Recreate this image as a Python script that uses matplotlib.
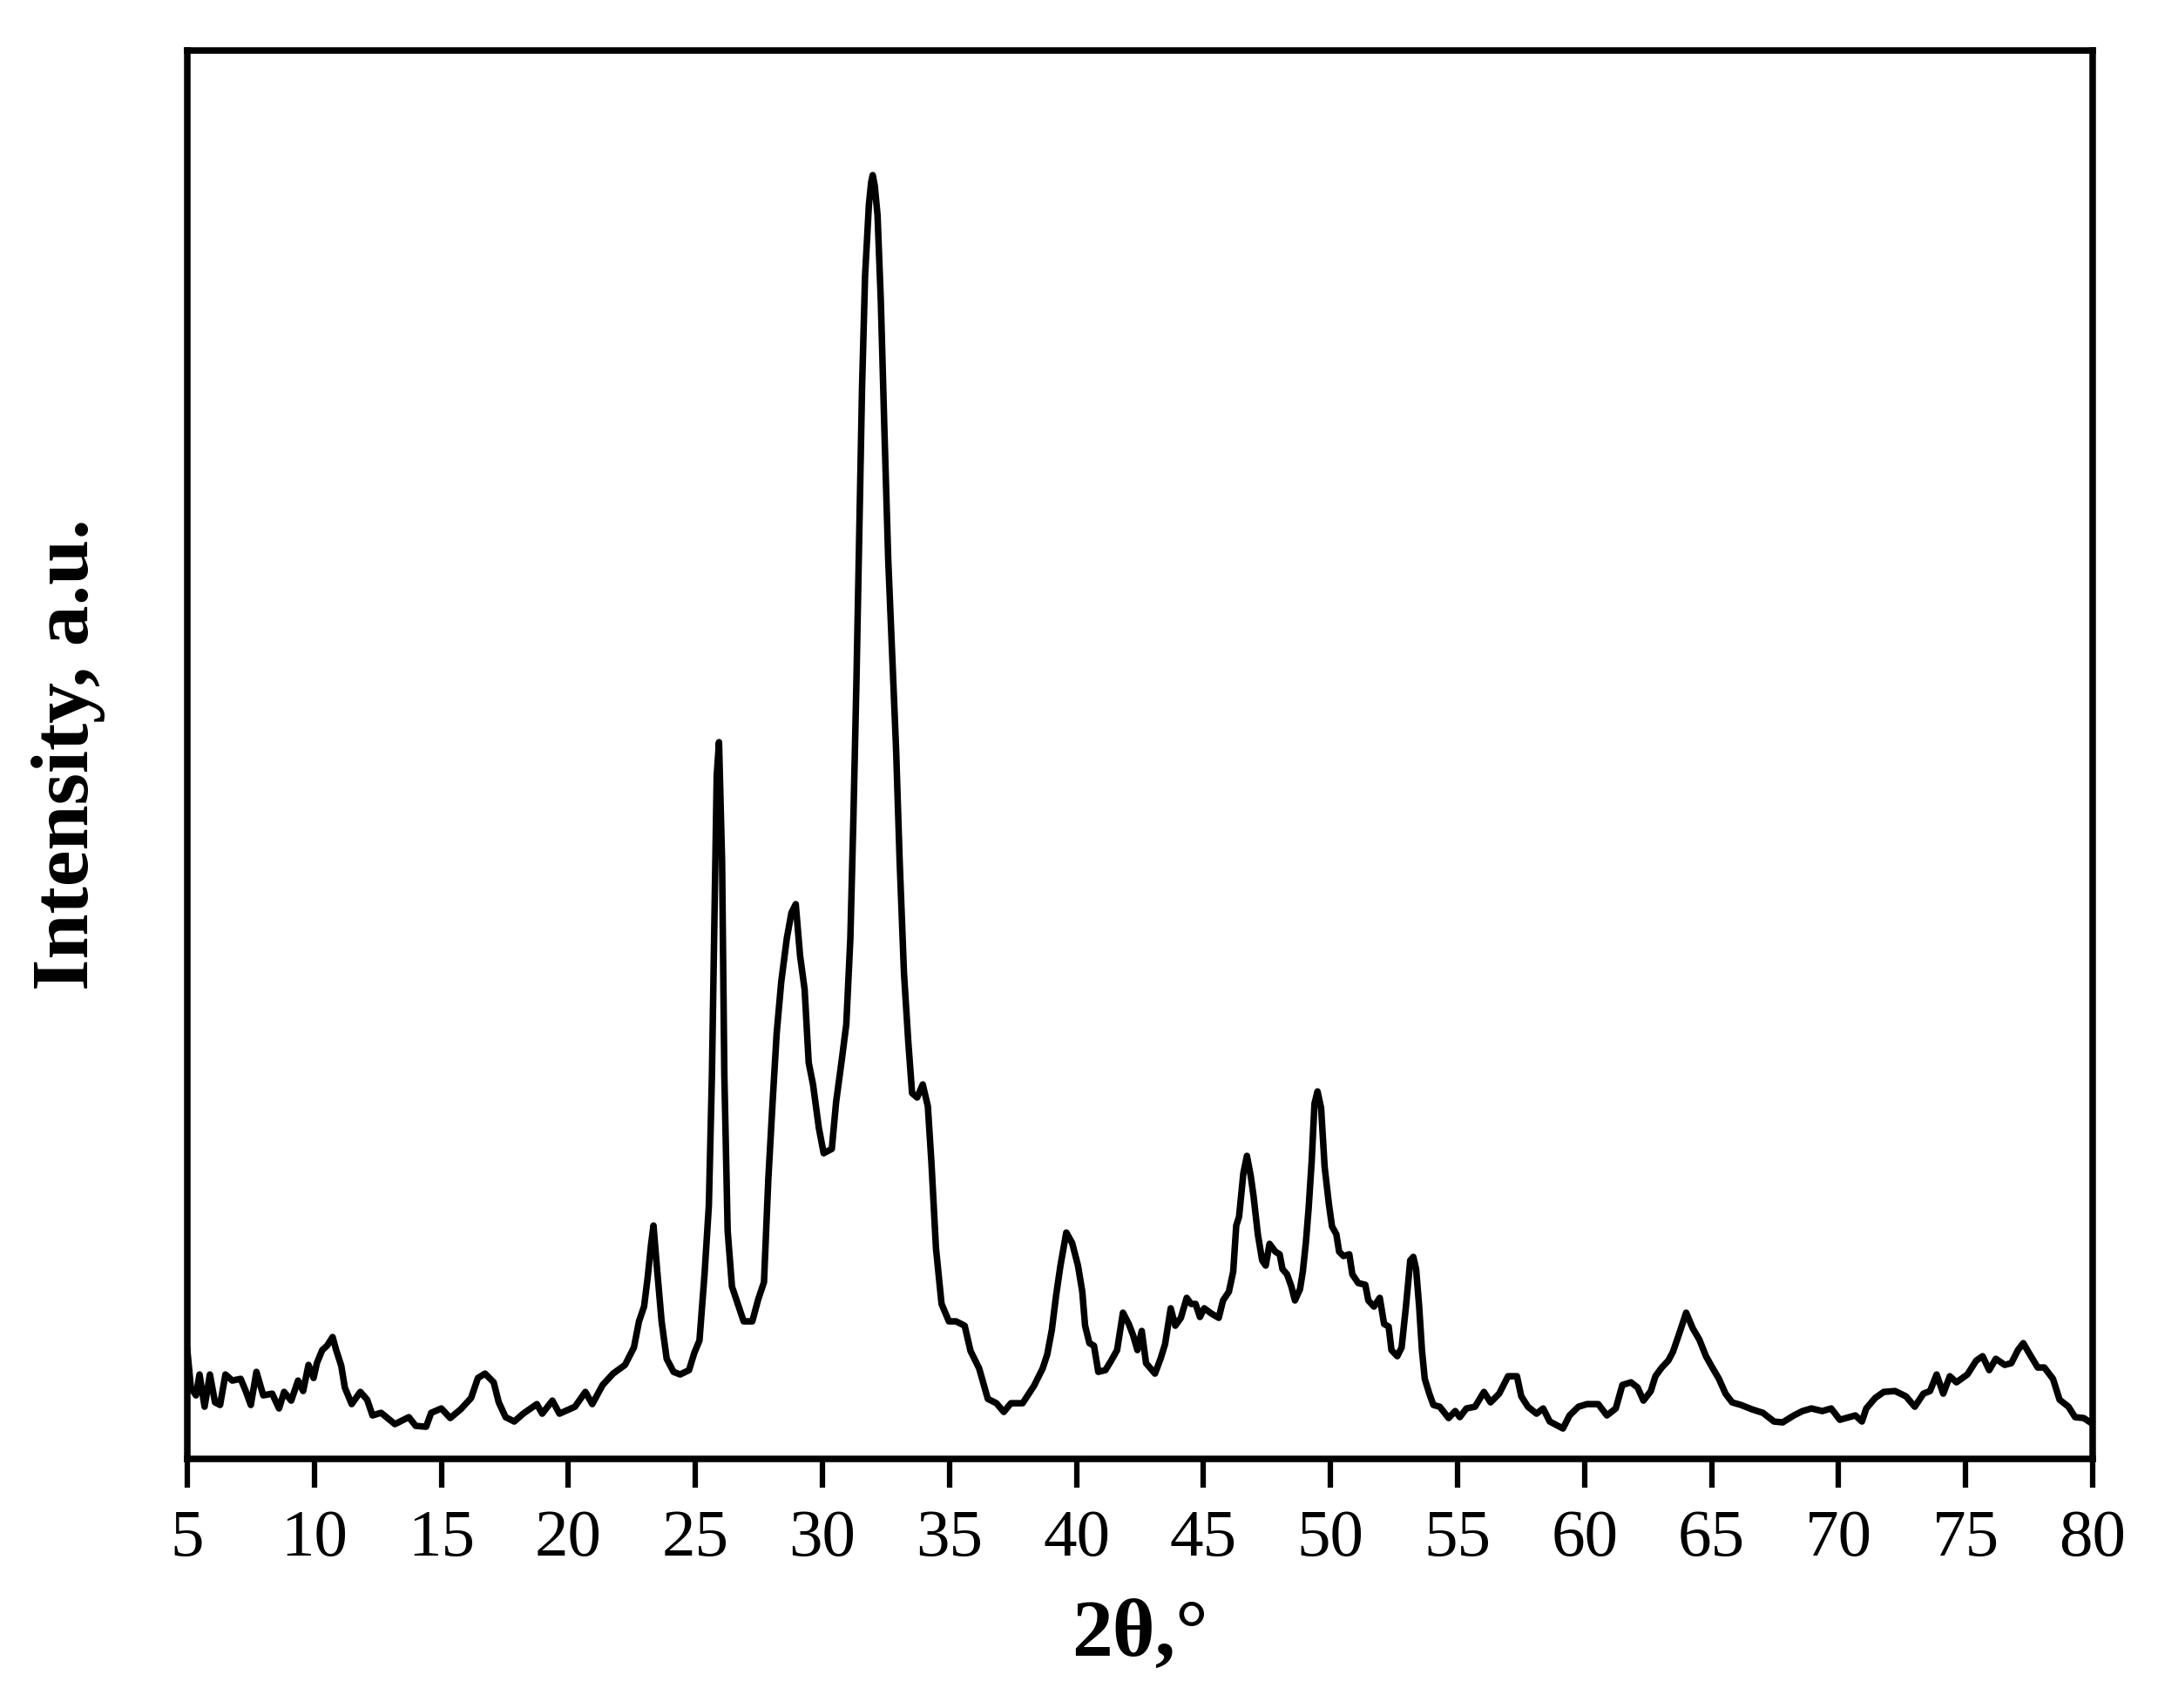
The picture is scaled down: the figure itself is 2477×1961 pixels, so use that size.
from matplotlib import pyplot as plt

# XRD pattern (intensity in arbitrary units)
two_theta = [
    5.0, 5.14, 5.34, 5.48, 5.68, 5.89, 6.09, 6.29, 6.5, 6.77, 7.1, 7.3, 7.5, 7.72, 7.99,
    8.34, 8.61, 8.81, 9.09, 9.36, 9.56, 9.77, 9.97, 10.1, 10.31, 10.5, 10.72, 10.86, 11.06,
    11.2, 11.47, 11.81, 12.08, 12.29, 12.63, 13.17, 13.72, 13.99, 14.4, 14.6, 15.0, 15.35,
    15.76, 16.17, 16.44, 16.72, 17.06, 17.26, 17.53, 17.87, 18.22, 18.76, 18.97, 19.37,
    19.65, 20.26, 20.67, 20.94, 21.35, 21.76, 22.23, 22.58, 22.78, 22.98, 23.12, 23.25,
    23.35, 23.5, 23.67, 23.87, 24.14, 24.4, 24.75, 24.96, 25.16, 25.36, 25.53, 25.65,
    25.76, 25.84, 25.93, 26.05, 26.14, 26.27, 26.44, 26.67, 26.9, 27.24, 27.47, 27.7,
    27.87, 28.04, 28.2, 28.38, 28.6, 28.78, 28.95, 29.12, 29.3, 29.46, 29.63, 29.86, 30.05,
    30.37, 30.54, 30.77, 30.94, 31.1, 31.22, 31.34, 31.45, 31.56, 31.68, 31.83, 31.92,
    31.98, 32.06, 32.17, 32.3, 32.44, 32.59, 32.76, 32.9, 33.04, 33.21, 33.38, 33.53,
    33.73, 33.95, 34.15, 34.29, 34.47, 34.69, 34.98, 35.26, 35.6, 35.83, 36.17, 36.51,
    36.85, 37.14, 37.42, 37.88, 38.33, 38.67, 38.85, 39.03, 39.2, 39.37, 39.6, 39.83,
    40.06, 40.23, 40.34, 40.51, 40.69, 40.86, 41.14, 41.37, 41.6, 41.83, 42.06, 42.23,
    42.4, 42.57, 42.74, 43.09, 43.31, 43.49, 43.71, 43.89, 44.11, 44.34, 44.51, 44.69,
    44.86, 45.03, 45.31, 45.6, 45.77, 46.0, 46.17, 46.29, 46.4, 46.57, 46.71, 46.86, 46.97,
    47.14, 47.31, 47.45, 47.6, 47.83, 48.0, 48.11, 48.29, 48.46, 48.6, 48.8, 48.91, 49.03,
    49.14, 49.26, 49.37, 49.49, 49.63, 49.77, 49.94, 50.06, 50.23, 50.34, 50.51, 50.74,
    50.86, 51.09, 51.37, 51.49, 51.71, 51.94, 52.11, 52.29, 52.4, 52.63, 52.8, 52.97,
    53.14, 53.26, 53.37, 53.49, 53.6, 53.71, 53.89, 54.05, 54.3, 54.65, 54.91, 55.09,
    55.35, 55.69, 56.04, 56.3, 56.64, 56.99, 57.34, 57.51, 57.77, 58.11, 58.37, 58.63,
    59.15, 59.41, 59.76, 60.1, 60.54, 60.88, 61.23, 61.49, 61.83, 62.09, 62.32, 62.61,
    62.79, 63.04, 63.3, 63.48, 63.74, 64.0, 64.26, 64.52, 64.78, 65.03, 65.29, 65.55,
    65.81, 66.16, 66.59, 67.02, 67.46, 67.8, 68.24, 68.58, 68.93, 69.36, 69.71, 70.05,
    70.66, 70.92, 71.09, 71.44, 71.78, 72.22, 72.65, 73.0, 73.34, 73.6, 73.86, 74.12,
    74.38, 74.64, 75.07, 75.42, 75.67, 75.93, 76.19, 76.54, 76.8, 77.06, 77.27, 77.49,
    77.84, 78.1, 78.44, 78.7, 79.05, 79.31, 79.65, 79.91, 80.0,
]
intensity = [
    125, 82, 73, 97, 60, 97, 65, 62, 97, 90, 92, 78, 62, 100, 73,
    75, 58, 77, 67, 90, 78, 108, 93, 110, 125, 130, 140, 125, 107,
    82, 63, 77, 68, 50, 53, 40, 48, 38, 37, 53, 58, 47,
    57, 70, 93, 98, 88, 65, 48, 43, 52, 63, 52, 67,
    52, 60, 77, 63, 85, 98, 108, 128, 158, 175, 208, 245,
    268, 215, 158, 115, 100, 97, 102, 122, 136, 212, 291, 440,
    637, 785, 823, 687, 440, 262, 198, 178, 158, 158, 183, 203,
    321, 410, 489, 548, 598, 627, 637, 578, 539, 455, 430, 380, 351,
    356, 410, 460, 499, 598, 736, 894, 1062, 1230, 1359, 1440, 1466,
    1474, 1462, 1428, 1329, 1181, 1033, 914, 815, 687, 558, 479, 420,
    415, 430, 405, 341, 242, 178, 158, 158, 153, 124, 104, 69,
    64, 54, 64, 64, 84, 104, 120, 148, 188, 222, 260, 248,
    222, 192, 153, 133, 130, 100, 102, 113, 125, 168, 155, 142,
    125, 147, 110, 98, 115, 132, 173, 153, 162, 185, 178, 178,
    163, 173, 167, 162, 182, 192, 215, 268, 278, 328, 348, 325, 302,
    258, 228, 222, 247, 238, 235, 218, 212, 198, 182, 195, 215, 248,
    288, 342, 408, 422, 403, 335, 292, 267, 258, 238, 233, 235,
    212, 202, 200, 182, 175, 185, 155, 152, 125, 118, 128, 175,
    228, 232, 218, 175, 125, 92, 75, 62, 60, 47, 55, 48,
    58, 60, 77, 65, 75, 95, 95, 72, 60, 52, 58, 43,
    35, 50, 60, 63, 63, 50, 58, 85, 88, 82, 67, 78,
    95, 105, 113, 123, 145, 168, 150, 137, 118, 105, 92, 75,
    65, 62, 57, 53, 43, 42, 50, 55, 58, 55, 58, 45,
    50, 43, 58, 70, 77, 78, 72, 60, 75, 78, 97, 75,
    95, 88, 97, 113, 118, 102, 115, 108, 110, 125, 133, 122,
    105, 105, 92, 68, 60, 48, 47, 42, 40,
]
ticks = list(range(5, 81, 5))

plt.rcParams['font.family'] = ['Liberation Serif', 'DejaVu Serif']

fig = plt.figure(figsize=(2477 / 300, 1961 / 300), dpi=300)
ax = fig.add_axes([0.0868, 0.1458, 0.9697 - 0.0868, 0.9704 - 0.1458])
ax.plot(two_theta, intensity, c='black', lw=1.8, solid_joinstyle='round')

ax.set_xlim(5, 80)
ax.set_ylim(0, 1617)
ax.set_xticks(ticks)
ax.set_yticks([])
for side in ['left', 'right', 'top', 'bottom']:
    ax.spines[side].set_linewidth(1.8)
ax.tick_params(axis='x', direction='out', length=8, width=1.5, pad=6, labelsize=18.5)

ax.set_xlabel('2θ,°', fontsize=22.5, fontweight='bold', labelpad=8)
ax.set_ylabel('Intensity, a.u.', fontsize=22.5, fontweight='bold')
ax.yaxis.set_label_coords(-0.043, 0.5)

fig.savefig('out.png', dpi=300)
